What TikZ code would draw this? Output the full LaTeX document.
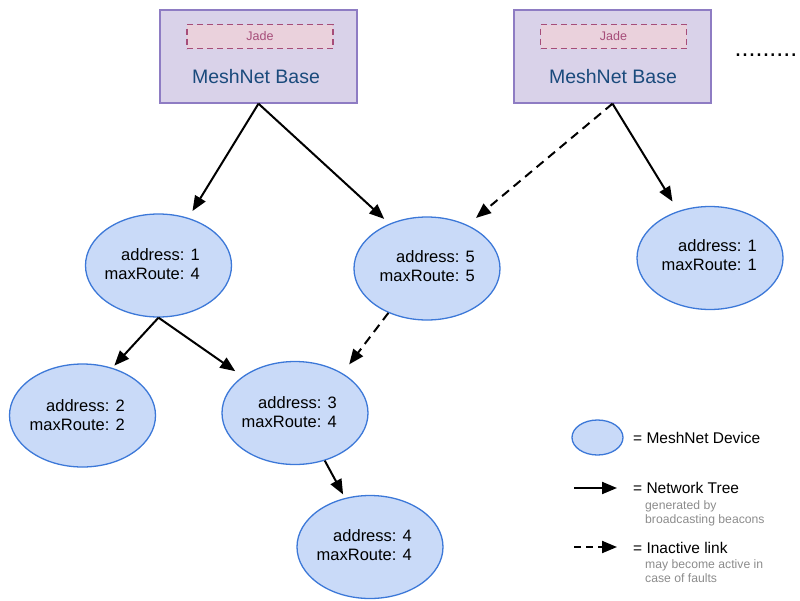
\documentclass[tikz,border=0pt]{standalone}
\usepackage{fontspec}
\setmainfont{Liberation Sans}
\usetikzlibrary{shapes.geometric,arrows.meta}

\definecolor{devfill}{HTML}{C9DAF8}
\definecolor{devedge}{HTML}{3C78D8}
\definecolor{basefill}{HTML}{D9D2E9}
\definecolor{baseedge}{HTML}{8E7CC3}
\definecolor{jadefill}{HTML}{EAD1DC}
\definecolor{jadeedge}{HTML}{A64D79}
\definecolor{basetext}{HTML}{1A4A7C}
\definecolor{notegray}{HTML}{8C8C8C}

\begin{document}
\begin{tikzpicture}[x=1pt,y=-1pt,
  device/.style={ellipse, draw=devedge, fill=devfill, line width=1.3pt,
    minimum width=146pt, minimum height=103pt, inner sep=0pt},
  devtext/.style={anchor=east, align=right, inner sep=0pt,
    font=\fontsize{16.5}{19}\selectfont},
  basebox/.style={rectangle, draw=baseedge, fill=basefill, line width=1.3pt,
    minimum width=197pt, minimum height=93pt, inner sep=0pt},
  jadebox/.style={rectangle, draw=jadeedge, fill=jadefill, line width=1.3pt,
    dash pattern=on 6pt off 4pt, minimum width=146pt, minimum height=24pt,
    inner sep=0pt, text=jadeedge, font=\fontsize{12.5}{15}\selectfont},
  basetitle/.style={text=basetext, inner sep=0pt,
    font=\fontsize{19.5}{23}\selectfont},
  tree/.style={-{Triangle[length=15pt,width=12pt]}, line width=2pt},
  inactive/.style={tree, dash pattern=on 9pt off 6pt},
  legendtext/.style={anchor=base west, inner sep=0pt,
    font=\fontsize{15.5}{18}\selectfont},
  note/.style={anchor=north west, align=left, inner sep=0pt, text=notegray,
    font=\fontsize{12.2}{14}\selectfont},
]
\useasboundingbox (0,0) rectangle (800,600);

% base stations
\node[basebox] (b1) at (258.5,56.5) {};
\node[jadebox] (b1-jade) at (260,36.5) {Jade};
\node[basetitle] (b1-title) at (256,77) {MeshNet Base};

\node[basebox] (b2) at (612.5,56.5) {};
\node[jadebox] (b2-jade) at (613.5,36.5) {Jade};
\node[basetitle] (b2-title) at (613,77) {MeshNet Base};

\node[anchor=base west, inner sep=0pt, font=\fontsize{25}{28}\selectfont]
  (more) at (734.5,56) {.........};

% mesh devices
\node[device] (A) at (158.5,265.5) {};
\node[devtext] (A-t) at (200,264.5) {address: 1\\maxRoute: 4};

\node[device] (B) at (427,268.5) {};
\node[devtext] (B-t) at (475,266) {address: 5\\maxRoute: 5};

\node[device] (C) at (710,258) {};
\node[devtext] (C-t) at (757,255.5) {address: 1\\maxRoute: 1};

\node[device] (D) at (82.5,415.5) {};
\node[devtext] (D-t) at (125,415) {address: 2\\maxRoute: 2};

\node[device] (E) at (295,413) {};
\node[devtext] (E-t) at (337,412.5) {address: 3\\maxRoute: 4};

\node[device] (F) at (370,547) {};
\node[devtext] (F-t) at (412,545.5) {address: 4\\maxRoute: 4};

% network tree and inactive links
\draw[tree, shorten >=8pt] (b1.south) -- (A.58);
\draw[tree, shorten >=7pt] (b1.south) -- (B.130);
\draw[inactive, shorten >=11pt] (b2.south) -- (B.47);
\draw[tree, shorten >=11pt] (b2.south) -- (C.124);
\draw[tree, shorten >=3pt] (A.south) -- (D.58);
\draw[tree, shorten >=9pt] (A.south) -- (E.145);
\draw[inactive, shorten >=11pt] (B.229) -- (E.40);
\draw[tree, shorten >=4pt] (E.302) -- (F.117);

% legend
\node[device, minimum width=51pt, minimum height=35pt] (leg-dev) at (597.5,437.5) {};
\node[legendtext] (leg-dev-t) at (633,443) {= MeshNet Device};

\coordinate (leg-tree-a) at (574,488);
\coordinate (leg-tree-b) at (617,488);
\draw[tree] (leg-tree-a) -- (leg-tree-b);
\node[legendtext] (leg-tree-t) at (633,493) {= Network Tree};
\node[note] (leg-tree-n) at (645,500.1) {generated by\\broadcasting beacons};

\coordinate (leg-link-a) at (574,547);
\coordinate (leg-link-b) at (617,547);
\draw[inactive, dash pattern=on 7pt off 5pt] (leg-link-a) -- (leg-link-b);
\node[legendtext] (leg-link-t) at (633,553) {= Inactive link};
\node[note] (leg-link-n) at (645,559.1) {may become active in\\case of faults};
\end{tikzpicture}
\end{document}
